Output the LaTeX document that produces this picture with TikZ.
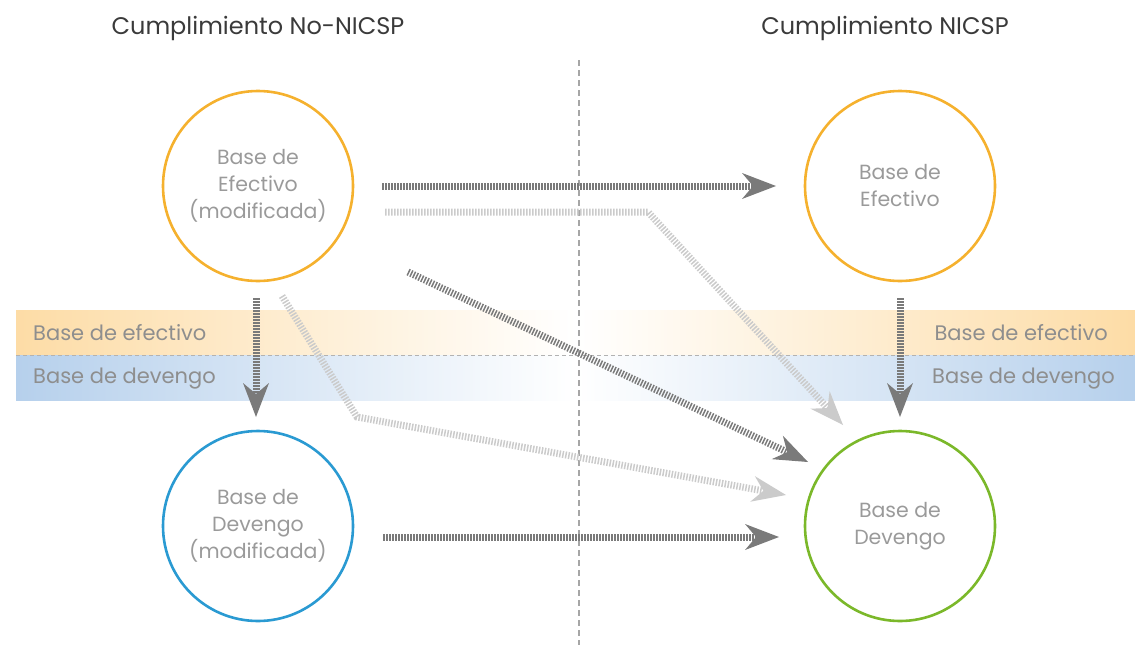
\documentclass[tikz,border=0pt]{standalone}
\usepackage{fontspec}
\setmainfont{Poppins}
\usetikzlibrary{arrows.meta}
\definecolor{orangeC}{HTML}{F5B12E}
\definecolor{blueC}{HTML}{2A9AD2}
\definecolor{greenC}{HTML}{7BB82A}
\definecolor{orangeB}{HTML}{FDDCA6}
\definecolor{blueB}{HTML}{B6D0EC}
\definecolor{darkA}{HTML}{7A7A7A}
\definecolor{lightA}{HTML}{CBCBCB}
\definecolor{txtC}{HTML}{9A9A9A}
\definecolor{bandT}{HTML}{8E8E8E}
\definecolor{titleT}{HTML}{3A3A3A}
\tikzset{
  ring/.style={circle, draw=#1, line width=2.6pt, minimum size=190pt, inner sep=0pt,
    align=center, text=txtC, font=\fontsize{20.5}{27}\selectfont},
  flow/.style={line width=7pt, dash pattern=on 1.5pt off 1.5pt, draw=#1,
    -{Stealth[length=34pt,width=26pt,inset=11pt,fill=#1,line width=0pt,sep=0pt]}},
  bandlabel/.style={text=bandT, font=\fontsize{21}{23}\selectfont, inner sep=0pt},
  title/.style={text=titleT, font=\fontsize{24}{28}\selectfont, inner sep=0pt},
}
\begin{document}
\begin{tikzpicture}[x=1pt,y=-1pt]
\useasboundingbox (0,0) rectangle (1135,648);
% bands
\shade[left color=orangeB, right color=orangeB, middle color=white] (16,310) rectangle (1135,355);
\shade[left color=blueB, right color=blueB, middle color=white] (16,355) rectangle (1135,400);
\draw[color=black!30, line width=1pt, dash pattern=on 4pt off 3pt] (16,355) -- (1135,355);
\draw[color=black!35, line width=1.3pt, dash pattern=on 6pt off 4pt] (579,60) -- (579,645);
% titles
\node[title] (t1) at (258,28) {Cumplimiento No-NICSP};
\node[title] (t2) at (885,28) {Cumplimiento NICSP};
% band labels
\node[bandlabel, anchor=west] (l1) at (33,333) {Base de efectivo};
\node[bandlabel, anchor=west] (l2) at (33,379) {Base de devengo};
\node[bandlabel, anchor=east] (r1) at (1108,333) {Base de efectivo};
\node[bandlabel, anchor=east] (r2) at (1115,379) {Base de devengo};
% circles
\node[ring=orangeC] (ef) at (258,186) {Base de\\Efectivo\\(modificada)};
\node[ring=blueC] (dv) at (258,526) {Base de\\Devengo\\(modificada)};
\node[ring=orangeC] (nef) at (900,186) {Base de\\Efectivo};
\node[ring=greenC] (ndv) at (900,526) {Base de\\Devengo};
% connector end points
\coordinate (a1s) at (382,186); \coordinate (a1e) at (776,186);
\coordinate (a2s) at (385,212); \coordinate (a2m) at (648,212); \coordinate (a2e) at (843,425);
\coordinate (a3s) at (408,272); \coordinate (a3e) at (808,462);
\coordinate (a4s) at (256,298); \coordinate (a4e) at (256,417);
\coordinate (a5s) at (282,296); \coordinate (a5m) at (357,417); \coordinate (a5e) at (786,495);
\coordinate (a6s) at (383,537); \coordinate (a6e) at (779,537);
\coordinate (a7s) at (900,298); \coordinate (a7e) at (900,417);
% connectors
\draw[flow=lightA] (a2s) -- (a2m) -- (a2e);
\draw[flow=lightA] (a5s) -- (a5m) -- (a5e);
\draw[flow=darkA] (a1s) -- (a1e);
\draw[flow=darkA] (a3s) -- (a3e);
\draw[flow=darkA] (a4s) -- (a4e);
\draw[flow=darkA] (a6s) -- (a6e);
\draw[flow=darkA] (a7s) -- (a7e);
\end{tikzpicture}
\end{document}
